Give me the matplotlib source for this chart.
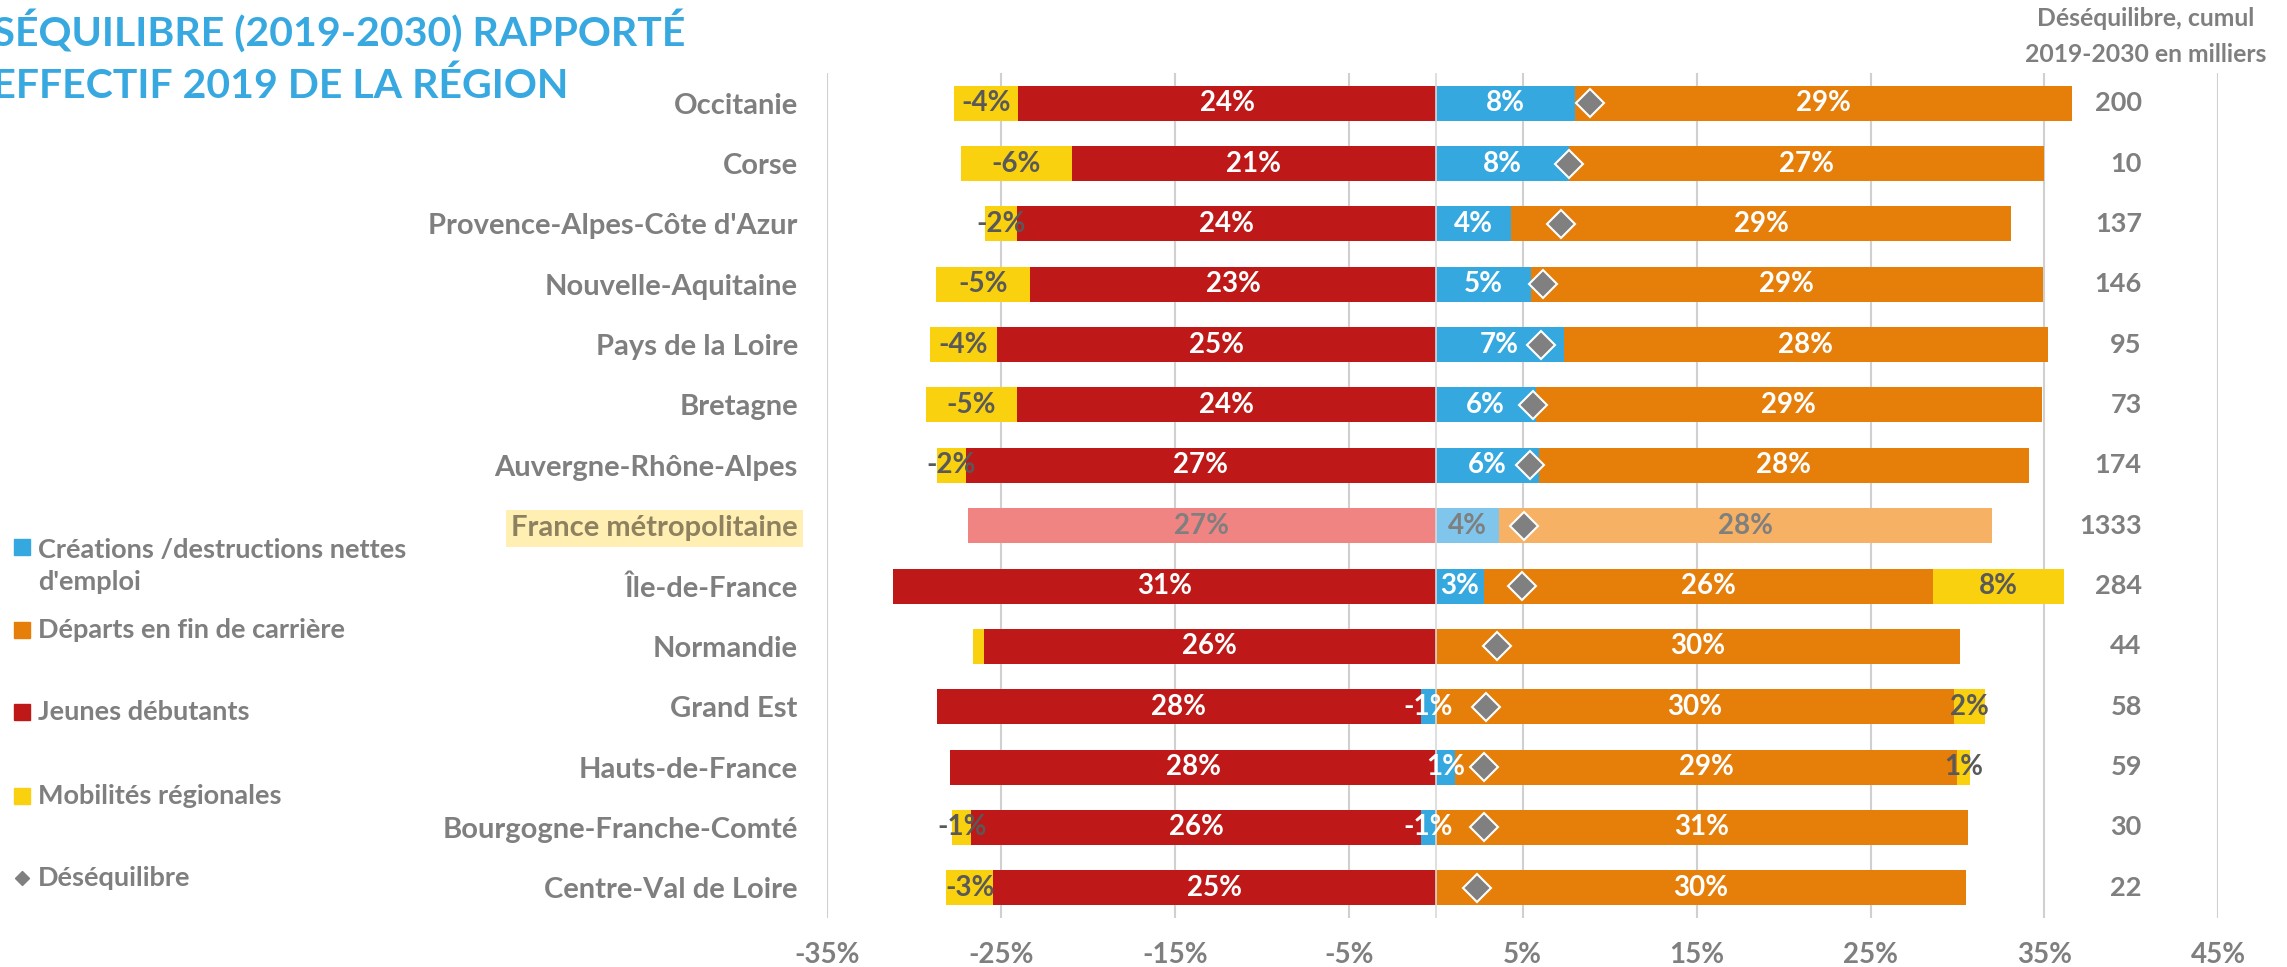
import matplotlib
matplotlib.use("Agg")
import matplotlib.pyplot as plt
from matplotlib.lines import Line2D
import numpy as np

plt.rcParams['font.family'] = ['Lato', 'DejaVu Sans']
plt.rcParams['font.weight'] = 'bold'

# données (en % de l'effectif 2019), de haut en bas
regions = ["Occitanie", "Corse", "Provence-Alpes-Côte d'Azur", "Nouvelle-Aquitaine",
           "Pays de la Loire", "Bretagne", "Auvergne-Rhône-Alpes", "France métropolitaine",
           "Île-de-France", "Normandie", "Grand Est", "Hauts-de-France",
           "Bourgogne-Franche-Comté", "Centre-Val de Loire"]
creations = [7.98, 7.69, 4.35, 5.45, 7.35, 5.74, 5.91, 3.65, 2.8, 0.0, -0.84, 1.13, -0.84, 0.0]
departs = [28.58, 27.3, 28.74, 29.48, 27.83, 29.13, 28.2, 28.33, 25.8, 30.15, 29.81, 28.85, 30.6, 30.5]
jeunes = [-24.0, -20.9, -24.05, -23.3, -25.2, -24.1, -27.0, -26.9, -31.2, -26.0, -27.86, -27.9, -25.86, -25.45]
mobilites = [-3.7, -6.4, -1.86, -5.45, -3.9, -5.2, -1.7, 0.0, 7.54, -0.6, 1.76, 0.71, -1.1, -2.7]
cumul = [200, 10, 137, 146, 95, 73, 174, 1333, 284, 44, 58, 59, 30, 22]
xticks_pct = [-35, -25, -15, -5, 5, 15, 25, 35, 45]

GREY = '#7F7F7F'
DARK = '#595959'
col = {'creations': '#35A8E0', 'departs': '#E67E0A', 'jeunes': '#BE1818', 'mobilites': '#F9D10E'}
col_fr = {'creations': '#80C6EC', 'departs': '#F6B164', 'jeunes': '#F08482', 'mobilites': '#FBE37A'}
FR = regions.index("France métropolitaine")

fig = plt.figure(figsize=(22.87, 9.67), dpi=100)
ax = fig.add_axes([0.3616, 0.0507, 0.6084, 0.8738])

n = len(regions)
y = np.arange(n)
pos = np.zeros(n)
neg = np.zeros(n)
series = [('creations', creations), ('departs', departs), ('jeunes', jeunes), ('mobilites', mobilites)]
for key, vals in series:
    vals = np.array(vals)
    left = np.where(vals >= 0, pos, neg)
    colors = [col_fr[key] if i == FR else col[key] for i in range(n)]
    ax.barh(y, vals, left=left, height=0.58, color=colors, zorder=2)
    for i in range(n):
        v = vals[i]
        if abs(v) < 0.65:
            continue
        if i == FR:
            tc = GREY
        elif key == 'mobilites':
            tc = DARK
        else:
            tc = 'white'
        shown = abs(v) if key == 'jeunes' else v
        ax.text(left[i] + v / 2, y[i], f"{round(shown):d}%", ha='center', va='center',
                color=tc, fontsize=20, zorder=4)
    pos = pos + np.clip(vals, 0, None)
    neg = neg + np.clip(vals, None, 0)

# déséquilibre = somme des composantes
deseq = np.array(creations) + np.array(departs) + np.array(jeunes) + np.array(mobilites)
ax.plot(deseq, y, 'D', ms=14, mfc='#808080', mec='white', mew=1.5, zorder=5, ls='none')

for i in range(n):
    ax.text(40.6, y[i], f"{cumul[i]}", ha='right', va='center', color=GREY, fontsize=19.5)

ax.axvline(0, color='#D9D9D9', lw=1.2, zorder=3)
ax.set_xlim(-35, 45)
ax.set_ylim(n - 0.5, -0.5)
ax.set_xticks(xticks_pct)
ax.set_xticklabels([f"{t}%" for t in xticks_pct], color=GREY, fontsize=20)
ax.set_yticks(y)
ax.set_yticklabels(regions, color=GREY, fontsize=21)
ax.tick_params(axis='both', length=0)
ax.tick_params(axis='x', pad=17)
ax.tick_params(axis='y', pad=21)
ax.grid(axis='x', color='#D0D0D0', lw=1.5)
ax.set_axisbelow(True)
for s in ax.spines.values():
    s.set_visible(False)

lab = ax.get_yticklabels()[FR]
lab.set_color('#8E8160')
lab.set_bbox(dict(facecolor='#FFEFB3', edgecolor='none', pad=4))

# titre (coupé à gauche comme dans l'original)
fig.text(685 / 2287, 1 - 46 / 967, "DÉSÉQUILIBRE (2019-2030) RAPPORTÉ", ha='right', va='baseline',
         color='#38A9E0', fontsize=29.5)
fig.text(569 / 2287, 1 - 98 / 967, "À L'EFFECTIF 2019 DE LA RÉGION", ha='right', va='baseline',
         color='#38A9E0', fontsize=29.5)

fig.text(2146 / 2287, 1 - 19 / 967, "Déséquilibre, cumul", ha='center', va='center',
         color=GREY, fontsize=17.8)
fig.text(2146 / 2287, 1 - 54 / 967, "2019-2030 en milliers", ha='center', va='center',
         color=GREY, fontsize=17.8)

# légende
legend_items = [("Créations /destructions nettes\nd'emploi", col['creations'], 's', 566),
                ("Départs en fin de carrière", col['departs'], 's', 630),
                ("Jeunes débutants", col['jeunes'], 's', 712),
                ("Mobilités régionales", col['mobilites'], 's', 796),
                ("Déséquilibre", '#808080', 'D', 878)]
for label, c, m, yy in legend_items:
    ym = yy if '\n' not in label else 547
    ms = 12 if m == 's' else 7
    fig.add_artist(Line2D([22 / 2287], [1 - ym / 967], marker=m, ms=ms, color=c, ls='none',
                          transform=fig.transFigure))
    fig.text(38 / 2287, 1 - yy / 967, label, ha='left', va='center', color=GREY,
             fontsize=19.5, linespacing=1.38)

fig.savefig("out.png", dpi=100)
